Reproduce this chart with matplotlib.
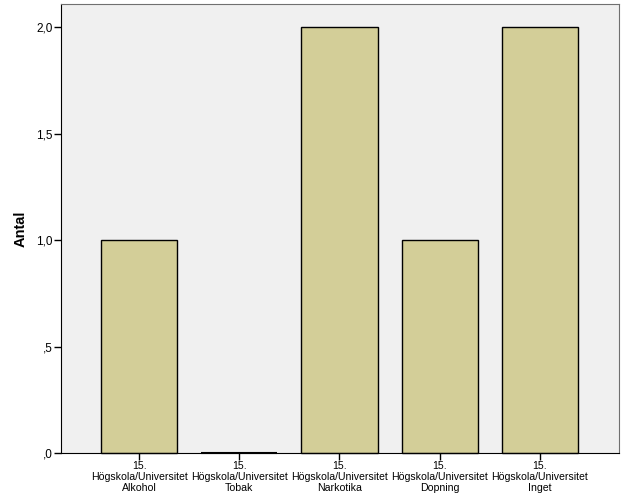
import matplotlib
matplotlib.use('Agg')
import matplotlib.pyplot as plt
import numpy as np

# data
categories = ['15.\nHögskola/Universitet\nAlkohol',
              '15.\nHögskola/Universitet\nTobak',
              '15.\nHögskola/Universitet\nNarkotika',
              '15.\nHögskola/Universitet\nDopning',
              '15.\nHögskola/Universitet\nInget']
counts = [1.0, 0.0, 2.0, 1.0, 2.0]
yticks = [0.0, 0.5, 1.0, 1.5, 2.0]
ytick_labels = [',0', ',5', '1,0', '1,5', '2,0']

plt.rcParams['font.family'] = ['Liberation Sans', 'DejaVu Sans']

fig = plt.figure(figsize=(6.26, 5.01), dpi=100)
ax = fig.add_axes([61/626, 48/501, 558/626, 449/501])
ax.set_facecolor('#f0f0f0')

x = np.arange(len(categories))
bars = ax.bar(x, counts, width=0.76, color='#d3ce98', edgecolor='black',
              linewidth=1.0, zorder=2)
for b in bars:
    b.set_clip_on(False)
    if b.get_height() == 0:
        b.set_linewidth(1.5)

ax.set_xlim(-0.78, 4.79)
ax.set_ylim(0, 2.108)
ax.set_yticks(yticks)
ax.set_yticklabels(ytick_labels, fontsize=8.5)
ax.set_xticks(x)
ax.set_xticklabels(categories, fontsize=7.6, linespacing=1.1)
ax.tick_params(axis='both', length=5, width=1, color='black', pad=1)
ax.set_ylabel('Antal', fontsize=10.5, fontweight='bold', labelpad=6)

for side in ['top', 'right']:
    ax.spines[side].set_color('#707070')
for side in ['left', 'bottom']:
    ax.spines[side].set_color('black')

fig.savefig('out.png', dpi=100)
